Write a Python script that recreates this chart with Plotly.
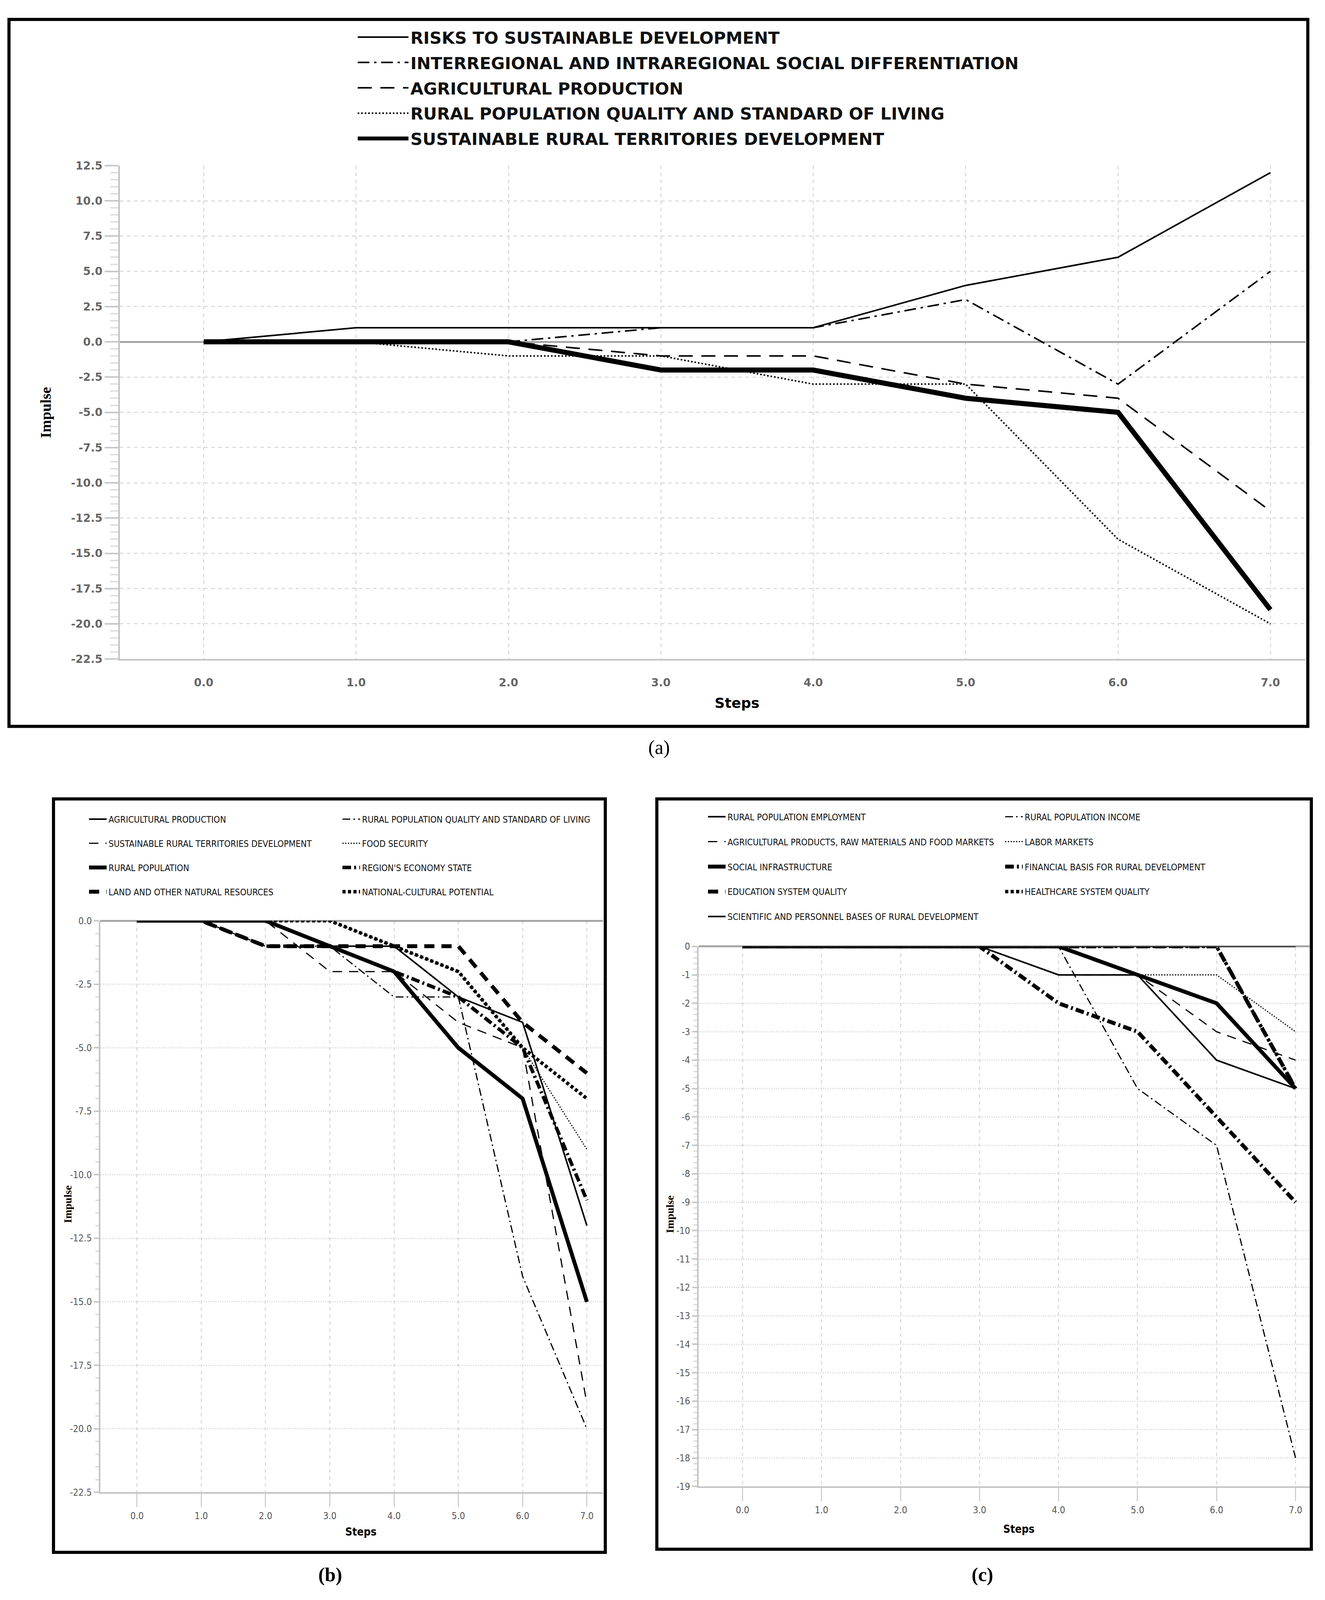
import plotly.graph_objects as go

# the browser shows 3393 x 4096, so the reference layout (3393 x 4573) is squeezed vertically
FW, FH = 3377, 4080
SY = 4096 / 4573

steps = [0, 1, 2, 3, 4, 5, 6, 7]
step_labels = ["0.0", "1.0", "2.0", "3.0", "4.0", "5.0", "6.0", "7.0"]

# panel (a)
a_risks = [0, 1, 1, 1, 1, 4, 6, 12]
a_interregional = [0, 0, 0, 1, 1, 3, -3, 5]
a_agri = [0, 0, 0, -1, -1, -3, -4, -12]
a_quality = [0, 0, -1, -1, -3, -3, -14, -20]
a_sustainable = [0, 0, 0, -2, -2, -4, -5, -19]
a_yticks = [12.5, 10.0, 7.5, 5.0, 2.5, 0.0, -2.5, -5.0, -7.5, -10.0, -12.5, -15.0, -17.5, -20.0, -22.5]
a_ylabels = ["12.5", "10.0", "7.5", "5.0", "2.5", "0.0", "-2.5", "-5.0", "-7.5", "-10.0",
             "-12.5", "-15.0", "-17.5", "-20.0", "-22.5"]

# panel (b)
b_agri = [0, 0, 0, -1, -1, -3, -4, -12]
b_sustainable = [0, 0, 0, -2, -2, -4, -5, -19]
b_rural_pop = [0, 0, 0, -1, -2, -5, -7, -15]
b_land = [0, 0, -1, -1, -1, -1, -4, -6]
b_quality = [0, 0, -1, -1, -3, -3, -14, -20]
b_food = [0, 0, 0, 0, -1, -2, -5, -9]
b_economy = [0, 0, -1, -1, -2, -3, -5, -11]
b_national = [0, 0, 0, 0, -1, -2, -5, -7]
b_yticks = [0.0, -2.5, -5.0, -7.5, -10.0, -12.5, -15.0, -17.5, -20.0, -22.5]
b_ylabels = ["0.0", "-2.5", "-5.0", "-7.5", "-10.0", "-12.5", "-15.0", "-17.5", "-20.0", "-22.5"]

# panel (c)
c_employment = [0, 0, 0, 0, -1, -1, -4, -5]
c_income = [0, 0, 0, 0, 0, -5, -7, -18]
c_agri_markets = [0, 0, 0, 0, -1, -1, -3, -4]
c_labor = [0, 0, 0, 0, 0, -1, -1, -3]
c_social = [0, 0, 0, 0, 0, -1, -2, -5]
c_financial = [0, 0, 0, 0, -2, -3, -6, -9]
c_education = [0, 0, 0, 0, 0, 0, 0, -5]
c_healthcare = [0, 0, 0, 0, 0, 0, 0, -5]
c_scientific = [0, 0, 0, 0, 0, 0, 0, 0]
c_yticks = [0, -1, -2, -3, -4, -5, -6, -7, -8, -9, -10, -11, -12, -13, -14, -15, -16, -17, -18, -19]
c_ylabels = ["0", "-1", "-2", "-3", "-4", "-5", "-6", "-7", "-8", "-9", "-10",
             "-11", "-12", "-13", "-14", "-15", "-16", "-17", "-18", "-19"]


# reference pixel -> paper fraction (page has an 8px body margin)
def px(v):
    return (v - 8) / FW


def py(v):
    return 1 - (v * SY - 8) / FH


NARROW = "Liberation Sans Narrow, DejaVu Sans Condensed, Roboto Condensed, Arial Narrow, sans-serif"
SERIF = "Liberation Serif, DejaVu Serif, serif"

fig = go.Figure()


def add(x, y, name, width, dash, ax, leg, rank):
    fig.add_trace(go.Scatter(
        x=x, y=y, mode="lines", name=name,
        line=dict(color="black", width=width, dash=dash),
        xaxis="x" + ax, yaxis="y" + ax, legend=leg,
        legendgroup=leg + str(rank), legendrank=rank,
    ))


# (a)
add(steps, a_risks, "RISKS TO SUSTAINABLE DEVELOPMENT", 4, "solid", "", "legend", 1)
add(steps, a_interregional, "INTERREGIONAL AND INTRAREGIONAL SOCIAL DIFFERENTIATION", 4,
    "30px,12px,6px,12px", "", "legend", 2)
add(steps, a_agri, "AGRICULTURAL PRODUCTION", 4, "36px,22px", "", "legend", 3)
add(steps, a_quality, "RURAL POPULATION QUALITY AND STANDARD OF LIVING", 4, "4px,5px", "", "legend", 4)
add(steps, a_sustainable, "SUSTAINABLE RURAL TERRITORIES DEVELOPMENT", 13, "solid", "", "legend", 5)

# (b)  col 1 -> legend2, col 2 -> legend3
add(steps, b_food, "FOOD SECURITY", 3, "3px,4px", "2", "legend3", 2)
add(steps, b_national, "NATIONAL-CULTURAL POTENTIAL", 9, "8px,6px", "2", "legend3", 4)
add(steps, b_land, "LAND AND OTHER NATURAL RESOURCES", 10, "26px,18px", "2", "legend2", 4)
add(steps, b_economy, "REGION'S ECONOMY STATE", 9, "22px,8px,5px,8px", "2", "legend3", 3)
add(steps, b_quality, "RURAL POPULATION QUALITY AND STANDARD OF LIVING", 3,
    "20px,8px,4px,8px", "2", "legend3", 1)
add(steps, b_sustainable, "SUSTAINABLE RURAL TERRITORIES DEVELOPMENT", 3, "24px,18px", "2", "legend2", 2)
add(steps, b_rural_pop, "RURAL POPULATION", 10, "solid", "2", "legend2", 3)
add(steps, b_agri, "AGRICULTURAL PRODUCTION", 4, "solid", "2", "legend2", 1)

# (c)  col 1 -> legend4, col 2 -> legend5
add(steps, c_scientific, "SCIENTIFIC AND PERSONNEL BASES OF RURAL DEVELOPMENT", 4, "solid", "3", "legend4", 5)
add(steps, c_education, "EDUCATION SYSTEM QUALITY", 10, "26px,18px", "3", "legend4", 4)
add(steps, c_healthcare, "HEALTHCARE SYSTEM QUALITY", 9, "8px,6px", "3", "legend5", 4)
add(steps, c_social, "SOCIAL INFRASTRUCTURE", 10, "solid", "3", "legend4", 3)
add(steps, c_labor, "LABOR MARKETS", 3, "3px,4px", "3", "legend5", 2)
add(steps, c_agri_markets, "AGRICULTURAL PRODUCTS, RAW MATERIALS AND FOOD MARKETS", 3,
    "24px,18px", "3", "legend4", 2)
add(steps, c_financial, "FINANCIAL BASIS FOR RURAL DEVELOPMENT", 10, "22px,8px,5px,8px", "3", "legend5", 3)
add(steps, c_income, "RURAL POPULATION INCOME", 3, "20px,8px,4px,8px", "3", "legend5", 1)
add(steps, c_employment, "RURAL POPULATION EMPLOYMENT", 4, "solid", "3", "legend4", 1)


def xax(dom, rng, font, standoff, ticklen):
    return dict(domain=dom, range=rng, tickmode="array", tickvals=steps, ticktext=step_labels,
                showline=True, linecolor="#c4c4c4", linewidth=4, zeroline=False,
                ticks="outside" if ticklen else "", ticklen=ticklen, tickwidth=3, tickcolor="#d0d0d0",
                tickfont=font, ticklabelstandoff=standoff,
                showgrid=True, gridcolor="#dcdcdc", gridwidth=3, griddash="dash")


def yax(dom, rng, vals, labels, font, ticklen, mdt, mlen, griddash):
    return dict(domain=dom, range=rng, tickmode="array", tickvals=vals, ticktext=labels,
                showline=True, linecolor="#c4c4c4", linewidth=4,
                zeroline=True, zerolinecolor="#a6a6a6", zerolinewidth=5,
                ticks="outside", ticklen=ticklen, tickwidth=4, tickcolor="#c8c8c8",
                minor=dict(tickmode="linear", tick0=0, dtick=mdt, ticks="outside", ticklen=mlen,
                           tickwidth=4, tickcolor="#e0e0e0", showgrid=False),
                tickfont=font, showgrid=True, gridcolor="#dcdcdc", gridwidth=3, griddash=griddash)


font_a = dict(family="DejaVu Sans", size=28, color="#666666", weight="bold")
font_bc = dict(family=NARROW, size=24, color="#555555")

fig.update_layout(
    width=FW, height=FH, autosize=False,
    margin=dict(l=0, r=0, t=0, b=0),
    paper_bgcolor="white", plot_bgcolor="white",
    showlegend=True,
    xaxis=dict(xax([px(307), px(3343)], [-0.55, 7.23], font_a, 32, 0), anchor="y"),
    yaxis=dict(yax([py(1881), py(459)], [-22.5, 12.5], a_yticks, a_ylabels, font_a, 35, 0.5, 21, "dash"),
               anchor="x"),
    xaxis2=dict(xax([px(257), px(1544)], [-0.57, 7.25], font_bc, 2, 34), anchor="y2"),
    yaxis2=dict(yax([py(4282), py(2635)], [-22.5, 0], b_yticks, b_ylabels, font_bc, 13, 0.5, 9, "dot"),
                anchor="x2"),
    xaxis3=dict(xax([px(1789), px(3354)], [-0.556, 7.18], font_bc, 2, 34), anchor="y3"),
    yaxis3=dict(yax([py(4265), py(2709)], [-19, 0], c_yticks, c_ylabels, font_bc, 13, 0.2, 9, "dot"),
                anchor="x3"),
)

leg_common = dict(xanchor="left", yanchor="top", bgcolor="rgba(0,0,0,0)", borderwidth=0,
                  traceorder="grouped", orientation="v")
leg_font = dict(family=NARROW, size=23, color="#111111")
fig.update_layout(
    legend=dict(leg_common, x=px(911), y=py(50), itemwidth=130, tracegroupgap=6,
                font=dict(family="DejaVu Sans", size=43, weight="bold", color="#111111")),
    legend2=dict(leg_common, x=px(223), y=py(2318), itemwidth=45, tracegroupgap=29, font=leg_font),
    legend3=dict(leg_common, x=px(872), y=py(2318), itemwidth=45, tracegroupgap=29, font=leg_font),
    legend4=dict(leg_common, x=px(1808), y=py(2311), itemwidth=45, tracegroupgap=31, font=leg_font),
    legend5=dict(leg_common, x=px(2569), y=py(2311), itemwidth=45, tracegroupgap=31, font=leg_font),
)

# panel frames
frames = [(23, 38, 3349, 2075), (137, 2284, 1550, 4455), (1682, 2284, 3358, 4446)]
for x0, y0, x1, y1 in frames:
    fig.add_shape(type="rect", xref="paper", yref="paper", x0=px(x0), x1=px(x1), y0=py(y1), y1=py(y0),
                  line=dict(color="black", width=8), layer="above")

# axis titles and panel labels
notes = [
    ("Impulse", 117, 1170, SERIF, 38, "bold", -90),
    ("Steps", 1887, 2007, "DejaVu Sans", 36, "bold", 0),
    ("Impulse", 174, 3452, SERIF, 28, "bold", -90),
    ("Steps", 924, 4396, NARROW, 28, "bold", 0),
    ("Impulse", 1716, 3481, SERIF, 28, "bold", -90),
    ("Steps", 2609, 4388, NARROW, 28, "bold", 0),
    ("(a)", 1688, 2135, SERIF, 50, "normal", 0),
    ("(b)", 845, 4519, SERIF, 50, "bold", 0),
    ("(c)", 2516, 4519, SERIF, 50, "bold", 0),
]
for text, x, y, fam, size, wt, ang in notes:
    fig.add_annotation(text=text, x=px(x), y=py(y), xref="paper", yref="paper", showarrow=False,
                       xanchor="center", yanchor="middle", textangle=ang,
                       font=dict(family=fam, size=size, color="black", weight=wt))

fig.write_html("out.html")
